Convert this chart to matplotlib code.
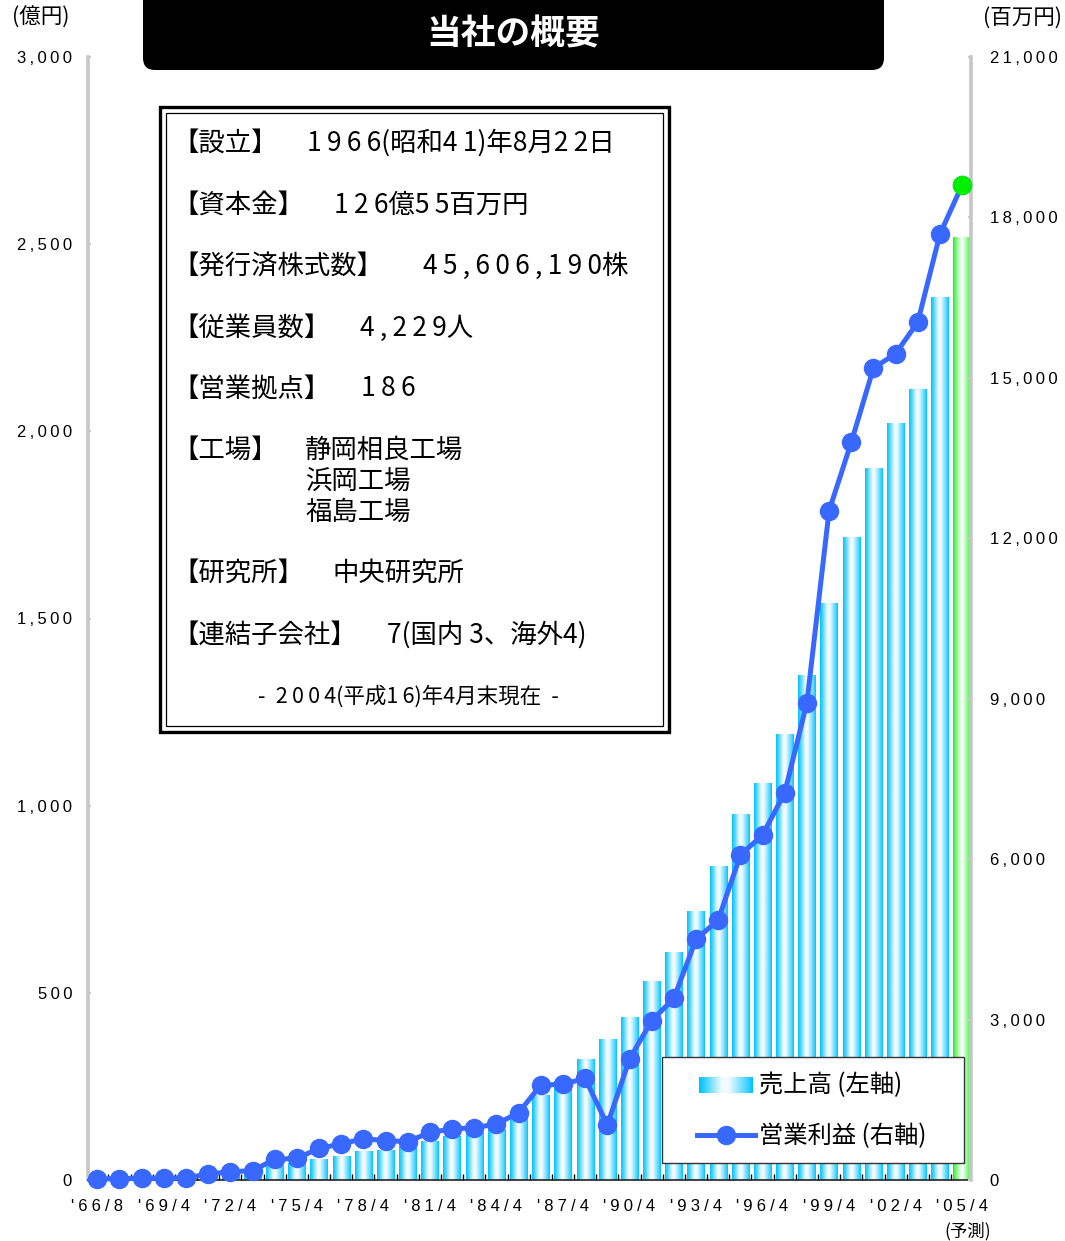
import numpy as np
import matplotlib
matplotlib.use("Agg")
import matplotlib.pyplot as plt
from matplotlib.colors import LinearSegmentedColormap
from matplotlib.patches import Rectangle, FancyBboxPatch
from matplotlib.lines import Line2D

# ---- data -------------------------------------------------------------
# net sales (億円) and operating income (百万円), one value per fiscal year '66 .. '05
sales = [2, 3, 5, 7, 9, 12, 15, 20, 35, 43, 56, 64, 76, 80, 89, 102, 115, 126, 134, 171,
         227, 262, 323, 374, 433, 529, 609, 717, 837, 976, 1058, 1189, 1347, 1539, 1716,
         1902, 2020, 2113, 2357, 2517]
op_profit = [20, 25, 30, 35, 40, 112, 155, 174, 387, 405, 592, 673, 773, 736, 717, 891,
             953, 978, 1047, 1259, 1776, 1789, 1901, 1028, 2262, 2979, 3397, 4500, 4862,
             6077, 6451, 7242, 8925, 12515, 13794, 15183, 15451, 16043, 17689, 18605]
x_tick_labels = ["'66/8", "'69/4", "'72/4", "'75/4", "'78/4", "'81/4", "'84/4",
                 "'87/4", "'90/4", "'93/4", "'96/4", "'99/4", "'02/4", "'05/4"]
left_ticks = [0, 500, 1000, 1500, 2000, 2500, 3000]
right_ticks = [0, 3000, 6000, 9000, 12000, 15000, 18000, 21000]

title = "当社の概要"
info_rows = [
    ("【設立】", "1966(昭和41)年8月22日"),
    ("【資本金】", "126億55百万円"),
    ("【発行済株式数】", "45,606,190株"),
    ("【従業員数】", "4,229人"),
    ("【営業拠点】", "186"),
    ("【工場】", "静岡相良工場"),
    ("", "浜岡工場"),
    ("", "福島工場"),
    ("【研究所】", "中央研究所"),
    ("【連結子会社】", "7(国内 3、海外4)"),
]
info_note = "- 2004(平成16)年4月末現在 -"
legend_labels = ["売上高 (左軸)", "営業利益 (右軸)"]

# ---- styling ------------------------------------------------------------
W, H, DPI = 1065, 1241, 100
CJK = ['Noto Sans CJK JP', 'DejaVu Sans']
LAT = ['Liberation Sans', 'DejaVu Sans']
LINE_BLUE = '#3868FF'


def track(s, sp='\u2009'):
    """Letter-space a short latin label."""
    return sp.join(s)


def space_digits(s, sp='\u2009'):
    """Open up runs of digits inside mixed Japanese text."""
    out = []
    for a, b in zip(s, s[1:] + ' '):
        out.append(a)
        if a in '0123456789,' and b in '0123456789,':
            out.append(sp)
    return ''.join(out)


fig = plt.figure(figsize=(W / DPI, H / DPI), dpi=DPI)
fig.patch.set_facecolor('white')

# plot area in pixel units
PL, PR, PB, PT = 88, 971, 1180, 57
ax = fig.add_axes([PL / W, 1 - PB / H, (PR - PL) / W, (PB - PT) / H])
ax.set_facecolor('white')

n = len(sales)
x = np.arange(n)
bw = 0.78
blue_cmap = LinearSegmentedColormap.from_list(
    'barblue', [(0, '#00C2FF'), (0.1, '#30D0FF'), (0.42, '#F2FBFF'),
                (0.55, '#F2FBFF'), (0.9, '#40D4FF'), (1, '#00C2FF')])
green_cmap = LinearSegmentedColormap.from_list(
    'bargreen', [(0, '#22EE22'), (0.12, '#66F266'), (0.45, '#F4FFF4'),
                 (0.55, '#F4FFF4'), (0.88, '#70F470'), (1, '#22EE22')])
grad = np.linspace(0, 1, 64).reshape(1, -1)
for xi, v in zip(x, sales):
    cm = green_cmap if xi == n - 1 else blue_cmap
    ax.imshow(grad, extent=(xi - bw / 2, xi + bw / 2, 0, v), aspect='auto',
              cmap=cm, interpolation='bilinear', zorder=2)

ax.set_xlim(-0.42, n - 0.6)
ax.set_ylim(0, 3000)

# x axis: labels every third year, small ticks between years
ax.set_xticks(x[::3])
ax.set_xticklabels([track(t, '\u2005') for t in x_tick_labels], family=LAT, fontsize=12)
ax.set_xticks(np.arange(0.5, n - 1, 1), minor=True)
ax.tick_params(axis='x', which='major', length=0, pad=14)
ax.tick_params(axis='x', which='minor', direction='in', length=4.5, width=1, color='black')

ax.set_yticks(left_ticks)
ax.set_yticklabels([track(f"{v:,}") for v in left_ticks], family=LAT, fontsize=12)
ax.tick_params(axis='y', direction='in', length=2.5, width=1.5, color='#cccccc', pad=11.5)

for s in ('top', 'right'):
    ax.spines[s].set_visible(False)
ax.spines['left'].set_color('#c6c6c6')
ax.spines['left'].set_linewidth(2.6)
ax.spines['bottom'].set_color('#222222')
ax.spines['bottom'].set_linewidth(1.2)
ax.spines['bottom'].set_zorder(5)

# operating income on the right axis
ax2 = ax.twinx()
ax2.plot(x, op_profit, color=LINE_BLUE, lw=3.6, marker='o', ms=13,
         mfc=LINE_BLUE, mec=LINE_BLUE, zorder=3, clip_on=False)
ax2.plot(x[-1], op_profit[-1], 'o', ms=13, color='#00EE00', zorder=4, clip_on=False)
ax2.set_ylim(0, 21000)
ax2.set_yticks(right_ticks)
ax2.set_yticklabels([track(f"{v:,}") for v in right_ticks], family=LAT, fontsize=12)
ax2.tick_params(axis='y', direction='in', length=2.5, width=1.5, color='#cccccc', pad=13.5)
for s in ('top', 'left', 'bottom'):
    ax2.spines[s].set_visible(False)
ax2.spines['right'].set_color('#c6c6c6')
ax2.spines['right'].set_linewidth(2.6)

# ---- overlay in pixel coordinates for the title, info panel and legend ----
ov = fig.add_axes([0, 0, 1, 1], zorder=10)
ov.set_xlim(0, W)
ov.set_ylim(H, 0)
ov.axis('off')
ov.patch.set_alpha(0)

ov.text(12, 18, "(億円)", family=CJK, fontsize=15.5, ha='left', va='center')
ov.text(1062, 18, "(百万円)", family=CJK, fontsize=15.5, ha='right', va='center')
ov.text(968, 1231, "(予測)", family=CJK, fontsize=12.5, ha='center', va='center')

ov.add_patch(FancyBboxPatch((143, -30), 741, 100, boxstyle='round,pad=0,rounding_size=12',
                            fc='black', ec='none'))
ov.text(513, 34, title, family=CJK, fontsize=25, weight='bold', color='white',
        ha='center', va='center')

# info panel with a double frame
ov.add_patch(Rectangle((160, 107), 509, 625, fc='white', ec='black', lw=2.4))
ov.add_patch(Rectangle((166, 113), 497, 613, fc='none', ec='black', lw=0.9))
row_y = [143, 205, 266, 328, 389, 450, 481, 512, 573, 635]
value_x = [307, 334, 423, 360, 361, 305, 305, 305, 332, 387]
for (lab, val), yy, vx in zip(info_rows, row_y, value_x):
    if lab:
        ov.text(172, yy, lab, family=CJK, fontsize=19, ha='left', va='center')
    ov.text(vx, yy, space_digits(val), family=CJK, fontsize=19, ha='left', va='center')
ov.text(408, 697, space_digits(info_note.replace('- ', '-\u2005 ').replace(' -', ' \u2005-'), '\u2009'),
        family=CJK, fontsize=15.5, ha='center', va='center')

# legend
ov.add_patch(Rectangle((662, 1057), 302, 106, fc='white', ec='#333333', lw=1))
ov.imshow(grad, extent=(699, 753, 1093, 1077), aspect='auto', cmap=blue_cmap,
          interpolation='bilinear', zorder=3)
ov.add_line(Line2D([697, 755], [1135, 1135], color=LINE_BLUE, lw=3.6, zorder=3))
ov.add_line(Line2D([726], [1135], color=LINE_BLUE, marker='o', ms=13, zorder=4))
ov.text(759, 1085, legend_labels[0], family=CJK, fontsize=17.5, ha='left', va='center')
ov.text(759, 1136, legend_labels[1], family=CJK, fontsize=17.5, ha='left', va='center')
ov.set_xlim(0, W)
ov.set_ylim(H, 0)

fig.savefig('out.png', dpi=DPI, facecolor='white')
